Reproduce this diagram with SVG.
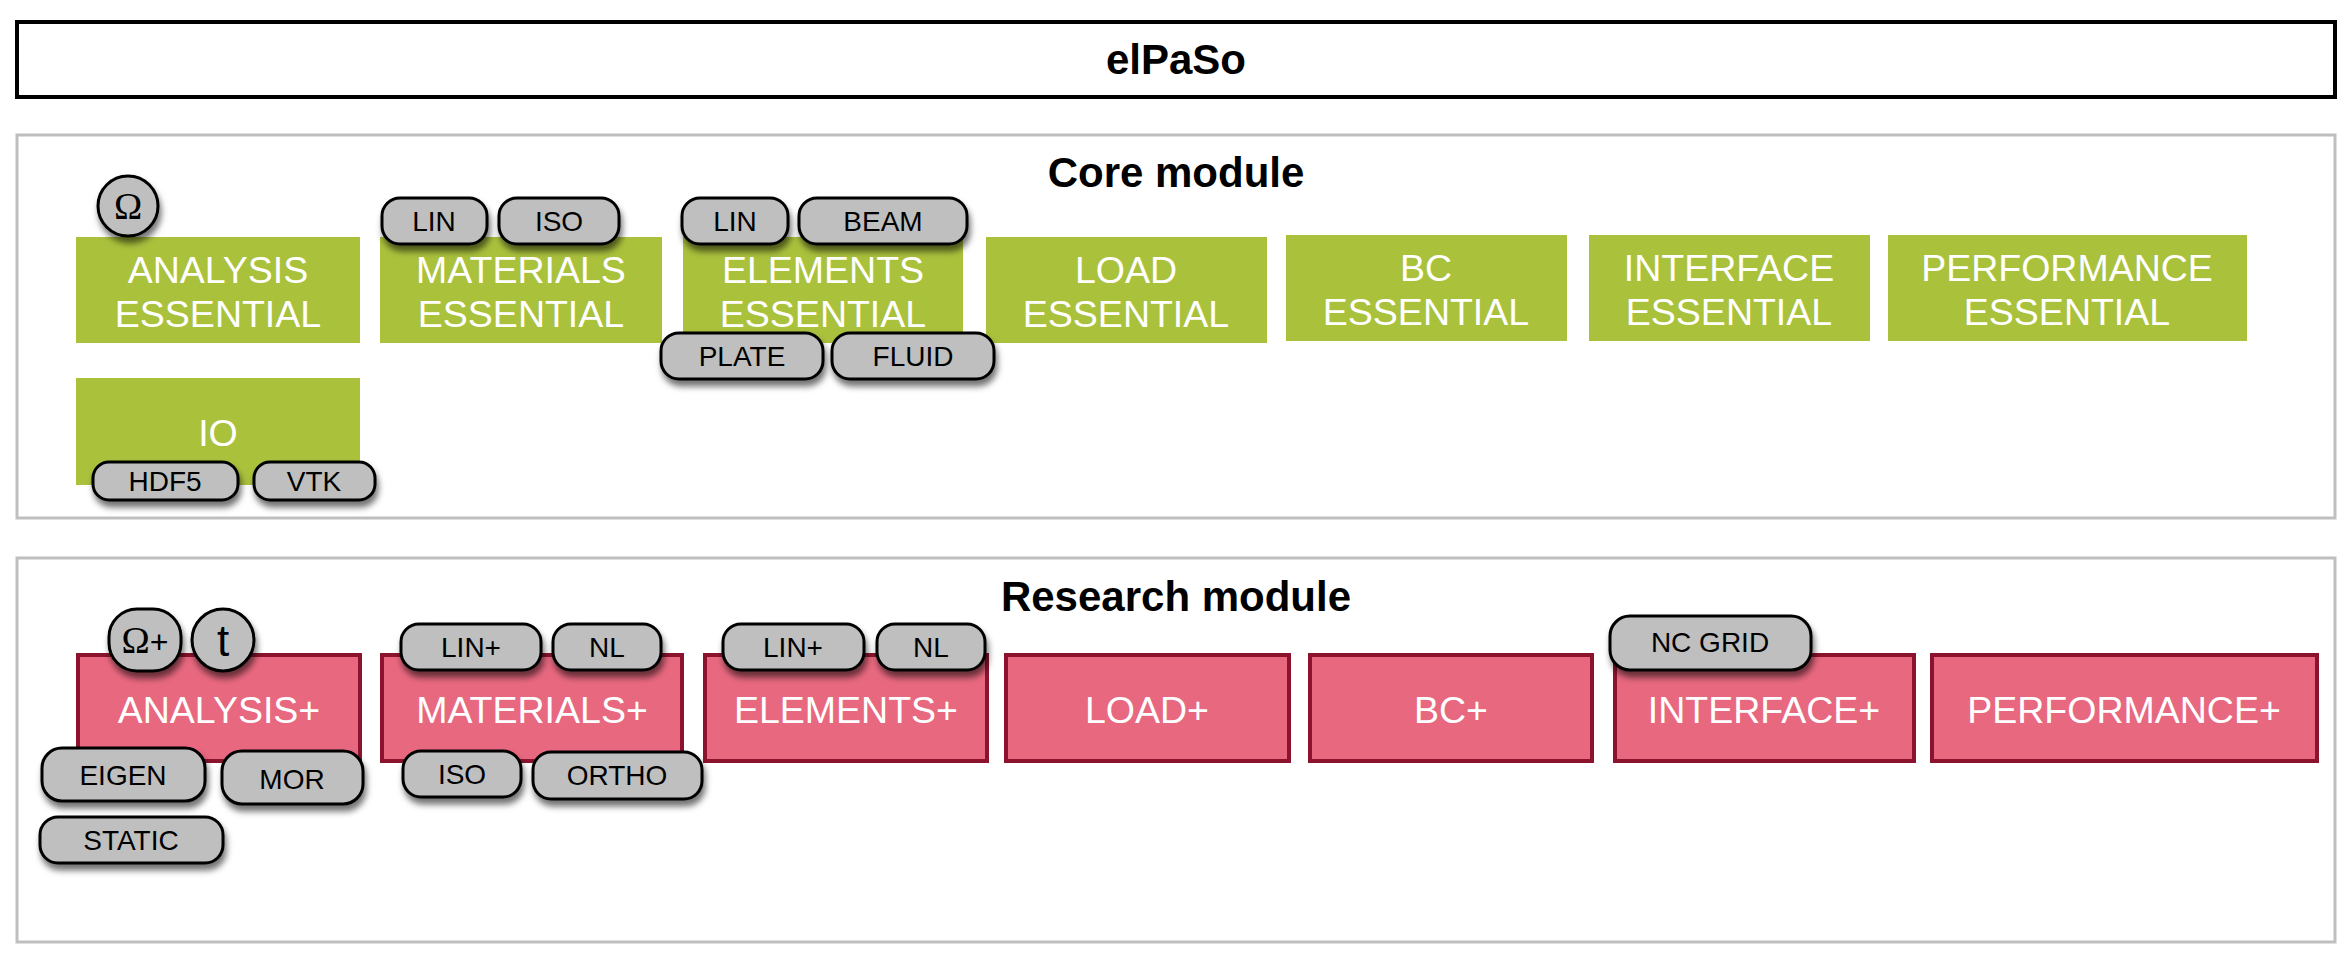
<svg xmlns="http://www.w3.org/2000/svg" width="2352" height="960" viewBox="0 0 2352 960">
<defs>
<filter id="sh" x="-30%" y="-30%" width="160%" height="190%">
<feDropShadow dx="2" dy="6" stdDeviation="3" flood-color="#000" flood-opacity="0.55"/>
</filter>
<style>
.frame{fill:#fff;stroke:#000;stroke-width:4}
.module{fill:#fff;stroke:#bfbfbf;stroke-width:3}
.h{font-family:"Liberation Sans",Arial,sans-serif;font-weight:bold;font-size:42px;fill:#000;text-anchor:middle}
.core{fill:#aac13c}
.res{fill:#e8687f;stroke:#8b132d;stroke-width:4}
.bt{font-family:"Liberation Sans",Arial,sans-serif;font-size:37.5px;fill:#fff;text-anchor:middle}
.pill{fill:#bfbfbf;stroke:#000;stroke-width:3;filter:url(#sh)}
.pt{font-family:"Liberation Sans",Arial,sans-serif;font-size:28px;fill:#000;text-anchor:middle}
.om{font-family:"Liberation Serif","Times New Roman",serif;font-size:38px;fill:#000;text-anchor:middle}
</style>
</defs>
<rect width="2352" height="960" fill="#fff"/>

<g id="title">
<rect class="frame" x="17" y="22" width="2318" height="75"/>
<text class="h" x="1176" y="74">elPaSo</text>
</g>

<g id="core-module">
<rect class="module" x="17" y="135" width="2318" height="383"/>
<text class="h" x="1176" y="187">Core module</text>
</g>

<g id="research-module">
<rect class="module" x="17" y="558" width="2318" height="384"/>
<text class="h" x="1176" y="611">Research module</text>
</g>

<g id="analysis-essential">
<rect class="core" x="76" y="237" width="284" height="106"/>
<text class="bt" x="218" y="283">ANALYSIS</text>
<text class="bt" x="218" y="327">ESSENTIAL</text>
</g>
<g id="materials-essential">
<rect class="core" x="380" y="237" width="282" height="106"/>
<text class="bt" x="521" y="283">MATERIALS</text>
<text class="bt" x="521" y="327">ESSENTIAL</text>
</g>
<g id="elements-essential">
<rect class="core" x="683" y="237" width="280" height="106"/>
<text class="bt" x="823" y="283">ELEMENTS</text>
<text class="bt" x="823" y="327">ESSENTIAL</text>
</g>
<g id="load-essential">
<rect class="core" x="986" y="237" width="281" height="106"/>
<text class="bt" x="1126" y="283">LOAD</text>
<text class="bt" x="1126" y="327">ESSENTIAL</text>
</g>
<g id="bc-essential">
<rect class="core" x="1286" y="235" width="281" height="106"/>
<text class="bt" x="1426" y="281">BC</text>
<text class="bt" x="1426" y="325">ESSENTIAL</text>
</g>
<g id="interface-essential">
<rect class="core" x="1589" y="235" width="281" height="106"/>
<text class="bt" x="1729" y="281">INTERFACE</text>
<text class="bt" x="1729" y="325">ESSENTIAL</text>
</g>
<g id="performance-essential">
<rect class="core" x="1888" y="235" width="359" height="106"/>
<text class="bt" x="2067" y="281">PERFORMANCE</text>
<text class="bt" x="2067" y="325">ESSENTIAL</text>
</g>
<g id="io">
<rect class="core" x="76" y="378" width="284" height="107"/>
<text class="bt" x="218" y="446">IO</text>
</g>

<g id="core-omega">
<circle class="pill" cx="128" cy="206" r="30"/>
<text class="om" x="128" y="219">Ω</text>
</g>
<g id="core-mat-lin">
<rect class="pill" x="382" y="198" width="105" height="46" rx="18"/>
<text class="pt" x="434" y="231">LIN</text>
</g>
<g id="core-mat-iso">
<rect class="pill" x="499" y="198" width="120" height="46" rx="18"/>
<text class="pt" x="559" y="231">ISO</text>
</g>
<g id="core-el-lin">
<rect class="pill" x="682" y="198" width="106" height="46" rx="18"/>
<text class="pt" x="735" y="231">LIN</text>
</g>
<g id="core-el-beam">
<rect class="pill" x="799" y="198" width="168" height="46" rx="18"/>
<text class="pt" x="883" y="231">BEAM</text>
</g>
<g id="core-el-plate">
<rect class="pill" x="661" y="333" width="162" height="46" rx="18"/>
<text class="pt" x="742" y="366">PLATE</text>
</g>
<g id="core-el-fluid">
<rect class="pill" x="832" y="333" width="162" height="46" rx="18"/>
<text class="pt" x="913" y="366">FLUID</text>
</g>
<g id="io-hdf5">
<rect class="pill" x="93" y="462" width="145" height="38" rx="16"/>
<text class="pt" x="165" y="491">HDF5</text>
</g>
<g id="io-vtk">
<rect class="pill" x="254" y="462" width="121" height="38" rx="16"/>
<text class="pt" x="314" y="491">VTK</text>
</g>

<g id="analysis-plus">
<rect class="res" x="78" y="655" width="282" height="106"/>
<text class="bt" x="219" y="723">ANALYSIS+</text>
</g>
<g id="materials-plus">
<rect class="res" x="382" y="655" width="300" height="106"/>
<text class="bt" x="532" y="723">MATERIALS+</text>
</g>
<g id="elements-plus">
<rect class="res" x="705" y="655" width="282" height="106"/>
<text class="bt" x="846" y="723">ELEMENTS+</text>
</g>
<g id="load-plus">
<rect class="res" x="1006" y="655" width="283" height="106"/>
<text class="bt" x="1147" y="723">LOAD+</text>
</g>
<g id="bc-plus">
<rect class="res" x="1310" y="655" width="282" height="106"/>
<text class="bt" x="1451" y="723">BC+</text>
</g>
<g id="interface-plus">
<rect class="res" x="1615" y="655" width="299" height="106"/>
<text class="bt" x="1764" y="723">INTERFACE+</text>
</g>
<g id="performance-plus">
<rect class="res" x="1932" y="655" width="385" height="106"/>
<text class="bt" x="2124" y="723">PERFORMANCE+</text>
</g>

<g id="res-omega-plus">
<rect class="pill" x="109" y="609" width="72" height="62" rx="28"/>
<text class="om" x="145" y="653">Ω<tspan font-family="Liberation Sans, Arial, sans-serif" font-size="32">+</tspan></text>
</g>
<g id="res-t">
<circle class="pill" cx="223" cy="640" r="31"/>
<text x="223" y="656" text-anchor="middle" font-family="Liberation Sans, Arial, sans-serif" font-size="44" fill="#000">t</text>
</g>
<g id="res-mat-lin">
<rect class="pill" x="401" y="624" width="140" height="46" rx="18"/>
<text class="pt" x="471" y="657">LIN+</text>
</g>
<g id="res-mat-nl">
<rect class="pill" x="553" y="624" width="108" height="46" rx="18"/>
<text class="pt" x="607" y="657">NL</text>
</g>
<g id="res-el-lin">
<rect class="pill" x="723" y="624" width="141" height="46" rx="18"/>
<text class="pt" x="793" y="657">LIN+</text>
</g>
<g id="res-el-nl">
<rect class="pill" x="877" y="624" width="108" height="46" rx="18"/>
<text class="pt" x="931" y="657">NL</text>
</g>
<g id="res-nc-grid">
<rect class="pill" x="1610" y="616" width="201" height="54" rx="20"/>
<text class="pt" x="1710" y="652">NC GRID</text>
</g>
<g id="res-eigen">
<rect class="pill" x="42" y="748" width="163" height="53" rx="20"/>
<text class="pt" x="123" y="785">EIGEN</text>
</g>
<g id="res-mor">
<rect class="pill" x="222" y="751" width="141" height="53" rx="20"/>
<text class="pt" x="292" y="789">MOR</text>
</g>
<g id="res-static">
<rect class="pill" x="40" y="817" width="183" height="46" rx="18"/>
<text class="pt" x="131" y="850">STATIC</text>
</g>
<g id="res-iso">
<rect class="pill" x="403" y="751" width="118" height="46" rx="18"/>
<text class="pt" x="462" y="784">ISO</text>
</g>
<g id="res-ortho">
<rect class="pill" x="533" y="752" width="169" height="47" rx="18"/>
<text class="pt" x="617" y="785">ORTHO</text>
</g>

<g id="connectors"/>
</svg>
